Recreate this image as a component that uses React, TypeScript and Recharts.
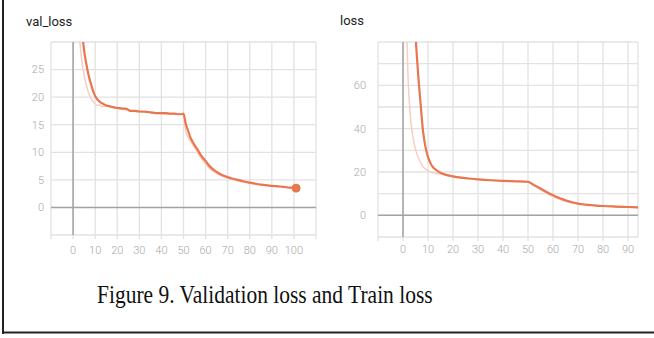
import React from 'react';
import { LineChart, Line, XAxis, YAxis, CartesianGrid, ReferenceLine, ReferenceDot } from 'recharts';

// ---- validation loss (left panel) ----
const valSmoothEpochs = [3, 4, 5, 6, 7, 8, 9, 10, 11, 12, 13, 15, 17, 19, 21, 23, 24, 25, 26, 28, 30, 32, 34, 36, 38, 40, 42, 44, 46, 48, 49, 50, 51, 52, 53, 54, 55, 56, 58, 60, 62, 64, 66, 68, 70, 72, 74, 76, 78, 80, 82, 84, 86, 88, 90, 92, 94, 96, 98, 100, 101];
const valSmoothValues = [40, 32.5, 28.5, 26, 24, 22.5, 21.2, 20.2, 19.6, 19.2, 18.9, 18.5, 18.3, 18.1, 18.0, 17.9, 17.9, 17.7, 17.5, 17.5, 17.4, 17.4, 17.3, 17.2, 17.1, 17.1, 17.1, 17.0, 17.0, 16.9, 16.9, 17.0, 15.2, 14.0, 12.8, 12.0, 11.3, 10.7, 9.4, 8.4, 7.4, 6.7, 6.2, 5.8, 5.5, 5.25, 5.05, 4.85, 4.65, 4.5, 4.35, 4.2, 4.1, 4.0, 3.9, 3.85, 3.8, 3.7, 3.6, 3.55, 3.5];
const valRawEpochs = [1, 2, 3, 4, 5, 6, 7, 8, 9, 10, 11, 12, 13, 15, 17, 20, 25, 30, 35, 40, 45, 50, 51, 52, 54, 56, 58, 60, 62, 64, 66, 68, 70, 75, 80, 85, 90, 95, 100, 101];
const valRawValues = [50, 38, 30.5, 26.5, 24, 22.2, 20.8, 19.8, 19.2, 18.8, 18.5, 18.6, 18.3, 18.4, 18.2, 18.0, 17.6, 17.3, 17.2, 17.0, 16.9, 16.9, 13.8, 12.8, 11.5, 10.2, 8.9, 7.9, 7.0, 6.4, 5.9, 5.6, 5.3, 4.8, 4.4, 4.1, 3.9, 3.7, 3.5, 3.5];
const valXTicks = [-10, 0, 10, 20, 30, 40, 50, 60, 70, 80, 90, 100, 110];
const valYTicks = [-5, 0, 5, 10, 15, 20, 25, 30];
const valXLabels = [0, 10, 20, 30, 40, 50, 60, 70, 80, 90, 100];
const valYLabels = [0, 5, 10, 15, 20, 25];

// ---- train loss (right panel) ----
const trainSmoothEpochs = [4, 5, 6, 7, 8, 9, 10, 11, 12, 13, 14, 15, 17, 20, 23, 26, 30, 35, 40, 45, 50, 52, 55, 58, 60, 63, 65, 68, 70, 73, 76, 80, 85, 90, 94];
const trainSmoothValues = [110, 84, 66, 52, 39, 31.5, 27, 24, 22.2, 21.2, 20.3, 19.7, 18.8, 18.0, 17.4, 17.0, 16.6, 16.2, 15.9, 15.7, 15.5, 14.3, 12.4, 10.4, 9.3, 7.8, 6.9, 5.9, 5.4, 4.95, 4.65, 4.3, 4.05, 3.85, 3.7];
const trainRawEpochs = [1, 2, 3, 4, 5, 6, 7, 8, 9, 10, 11, 12, 14, 16, 18, 20, 25, 30, 40, 50, 52, 55, 58, 60, 63, 65, 68, 70, 75, 80, 85, 90, 94];
const trainRawValues = [105, 64, 45, 36, 30.5, 27, 24.5, 22.5, 21.4, 20.6, 20.0, 19.7, 19.2, 18.8, 18.4, 18.0, 17.2, 16.6, 15.9, 15.4, 14.0, 11.8, 9.8, 8.7, 7.3, 6.5, 5.6, 5.2, 4.6, 4.25, 4.0, 3.8, 3.65];
const trainXTicks = [-10, 0, 10, 20, 30, 40, 50, 60, 70, 80, 90];
const trainYTicks = [-10, 0, 10, 20, 30, 40, 50, 60, 70, 80];
const trainXLabels = [0, 10, 20, 30, 40, 50, 60, 70, 80, 90];
const trainYLabels = [0, 20, 40, 60];

const caption = 'Figure 9. Validation loss and Train loss';

const MAIN = '#e9764e';
const FAINT = '#f7cfc0';
const GRID = '#e2e2e2';
const ZERO = '#a3a3a3';
const TICKTXT = '#a8a8a8';

const zip = (xs: number[], ys: number[]) => xs.map((x, i) => ({ x, y: ys[i] }));

const tickStyle = { fill: TICKTXT, fontSize: 11, fontFamily: 'Roboto', fontWeight: 300 };
const titleStyle: React.CSSProperties = { position: 'absolute', fontFamily: 'Roboto', fontSize: 13, color: '#222' };

function Panel(props: {
  left: number; width: number; height: number;
  margin: { top: number; right: number; bottom: number; left: number };
  xDomain: [number, number]; yDomain: [number, number];
  xTicks: number[]; yTicks: number[]; xLabels: number[]; yLabels: number[];
  smooth: { x: number; y: number }[]; raw: { x: number; y: number }[];
  yTickMargin: number; xTickMargin: number; endDot?: boolean;
}) {
  const last = props.smooth[props.smooth.length - 1];
  return (
    <div style={{ position: 'absolute', left: props.left, top: 0 }}>
      <LineChart width={props.width} height={props.height} margin={props.margin}>
        <CartesianGrid stroke={GRID} strokeWidth={1.3} />
        <XAxis
          type="number" dataKey="x" domain={props.xDomain} ticks={props.xTicks}
          allowDataOverflow axisLine={false} tickLine={{ stroke: GRID, strokeWidth: 1.3 }}
          tickSize={4} tickMargin={props.xTickMargin} height={30} interval={0}
          tick={tickStyle}
          tickFormatter={(v: number) => (props.xLabels.includes(v) ? String(v) : '')}
        />
        <YAxis
          type="number" domain={props.yDomain} ticks={props.yTicks}
          allowDataOverflow axisLine={false} tickLine={false} tickSize={0}
          tickMargin={props.yTickMargin} width={40} interval={0}
          tick={tickStyle}
          tickFormatter={(v: number) => (props.yLabels.includes(v) ? String(v) : '')}
        />
        <ReferenceLine x={0} stroke={ZERO} strokeWidth={1.5} />
        <ReferenceLine y={0} stroke={ZERO} strokeWidth={1.5} />
        <Line data={props.raw} dataKey="y" type="monotone" stroke={FAINT} strokeWidth={1.5} dot={false} isAnimationActive={false} />
        <Line data={props.smooth} dataKey="y" type="monotone" stroke={MAIN} strokeWidth={2.2} dot={false} isAnimationActive={false} />
        {props.endDot ? <ReferenceDot x={last.x} y={last.y} r={4} fill={MAIN} stroke={MAIN} /> : null}
      </LineChart>
    </div>
  );
}

export default function App() {
  return (
    <div style={{ position: 'absolute', left: 0, top: 0, width: 654, height: 338, background: '#fff', overflow: 'hidden' }}>
      <div style={{ ...titleStyle, left: 26, top: 14 }}>val_loss</div>
      <div style={{ ...titleStyle, left: 340, top: 13 }}>loss</div>
      <Panel
        left={0} width={330} height={270}
        margin={{ top: 42, right: 14, bottom: 5, left: 11 }}
        xDomain={[-10, 110]} yDomain={[-5, 30]}
        xTicks={valXTicks} yTicks={valYTicks} xLabels={valXLabels} yLabels={valYLabels}
        smooth={zip(valSmoothEpochs, valSmoothValues)} raw={zip(valRawEpochs, valRawValues)}
        yTickMargin={7} xTickMargin={7} endDot
      />
      <Panel
        left={325} width={329} height={270}
        margin={{ top: 42, right: 16, bottom: 3, left: 13 }}
        xDomain={[-10, 94]} yDomain={[-10, 80]}
        xTicks={trainXTicks} yTicks={trainYTicks} xLabels={trainXLabels} yLabels={trainYLabels}
        smooth={zip(trainSmoothEpochs, trainSmoothValues)} raw={zip(trainRawEpochs, trainRawValues)}
        yTickMargin={12} xTickMargin={4}
      />
      <svg width={654} height={338} style={{ position: 'absolute', left: 0, top: 0, pointerEvents: 'none' }}>
        <g transform="translate(97, 302.5) scale(1, 1.2)">
          <text x={0} y={0} fontFamily="'Liberation Serif', 'Times New Roman', serif" fontSize={21.5} fill="#111">{caption}</text>
        </g>
        <rect x={2} y={0} width={2} height={334} fill="#222" />
        <rect x={2} y={331.5} width={652} height={2} fill="#222" />
      </svg>
    </div>
  );
}
